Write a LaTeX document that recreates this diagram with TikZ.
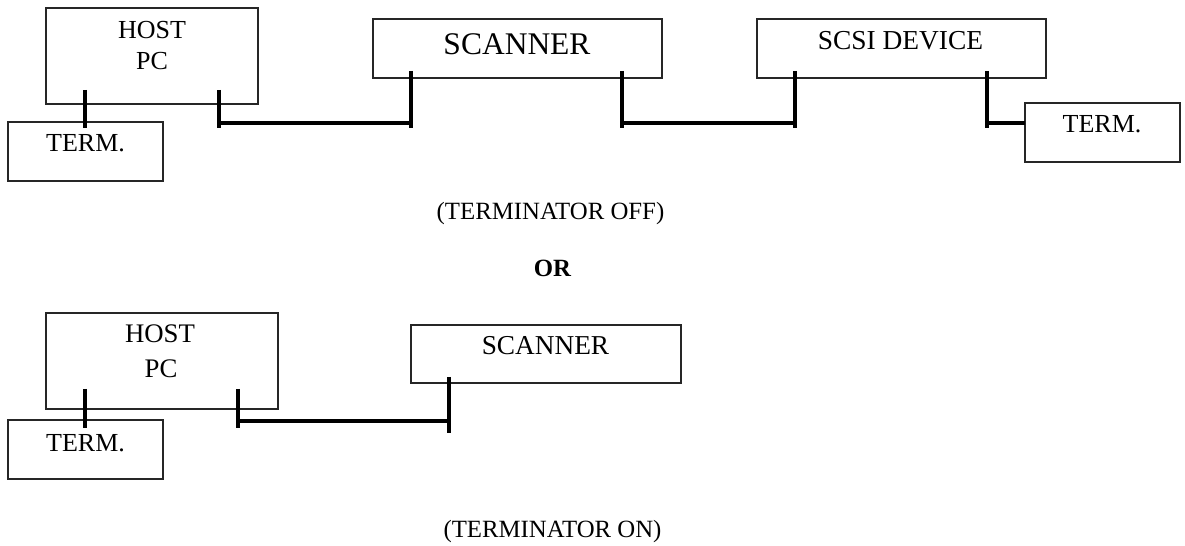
\documentclass[tikz,border=0pt]{standalone}
\usepackage{fontspec}
\setmainfont{Liberation Serif}
\begin{document}
\begin{tikzpicture}[x=1bp,y=-1bp,
  box/.style={draw=black!85,line width=1.1bp,rectangle,inner sep=0pt,outer sep=0pt},
  txt/.style={inner sep=0pt,outer sep=0pt,anchor=base,font=\fontsize{26bp}{30bp}\selectfont},
  bigtxt/.style={txt,font=\fontsize{31.5bp}{36bp}\selectfont},
  midtxt/.style={txt,font=\fontsize{27.4bp}{32bp}\selectfont},
  captxt/.style={txt,font=\fontsize{24.8bp}{30bp}\selectfont},
  bus/.style={line width=3.5bp,black}]
\useasboundingbox (0,0) rectangle (1185,546);
% ---------- top: terminator off ----------
\node[box,minimum width=212bp,minimum height=96bp] (hostA) at (152,56) {};
\node[box,minimum width=155bp,minimum height=59bp] (termA) at (85.5,151.5) {};
\node[box,minimum width=289bp,minimum height=59bp] (scanA) at (517.5,48.5) {};
\node[box,minimum width=289bp,minimum height=59bp] (scsi) at (901.5,48.5) {};
\node[box,minimum width=155bp,minimum height=59bp] (termB) at (1102.5,132.5) {};
\node[txt] (hostAt1) at (152,39) {HOST};
\node[txt] (hostAt2) at (152,70) {PC};
\node[txt] (termAt) at (85.5,152) {TERM.};
\node[bigtxt] (scanAt) at (517,55) {SCANNER};
\node[midtxt] (scsit) at (900.5,50) {SCSI DEVICE};
\node[txt] (termBt) at (1102,133) {TERM.};
% stubs and buses
\coordinate (a1) at (85,90);  \coordinate (a2) at (85,128);
\coordinate (b1) at (219,90); \coordinate (b2) at (219,128); \coordinate (bm) at (219,123);
\coordinate (c1) at (411,71); \coordinate (c2) at (411,128); \coordinate (cm) at (411,123);
\coordinate (d1) at (622,71); \coordinate (d2) at (622,128); \coordinate (dm) at (622,123);
\coordinate (e1) at (795,71); \coordinate (e2) at (795,128); \coordinate (em) at (795,123);
\coordinate (f1) at (987,71); \coordinate (f2) at (987,128); \coordinate (fm) at (987,123);
\draw[bus] (a1) -- (a2);
\draw[bus] (b1) -- (b2);
\draw[bus] (c1) -- (c2);
\draw[bus] (bm) -- (cm);
\draw[bus] (d1) -- (d2);
\draw[bus] (e1) -- (e2);
\draw[bus] (dm) -- (em);
\draw[bus] (f1) -- (f2);
\draw[bus] (fm) -- (termB.west |- fm);
\node[captxt] (offt) at (550.5,220) {(TERMINATOR OFF)};
\node[captxt,font=\fontsize{24.8bp}{30bp}\selectfont\bfseries] (ort) at (552.5,277) {OR};
% ---------- bottom: terminator on ----------
\node[box,minimum width=232bp,minimum height=96bp] (hostB) at (162,361) {};
\node[box,minimum width=155bp,minimum height=59bp] (termC) at (85.5,449.5) {};
\node[box,minimum width=270bp,minimum height=58bp] (scanB) at (546,354) {};
\node[txt,font=\fontsize{26.8bp}{30bp}\selectfont] (hostBt1) at (160,343) {HOST};
\node[txt,font=\fontsize{26.8bp}{30bp}\selectfont] (hostBt2) at (161,378) {PC};
\node[txt] (termCt) at (85.5,451) {TERM.};
\node[midtxt,font=\fontsize{27.3bp}{32bp}\selectfont] (scanBt) at (545.5,355) {SCANNER};
\coordinate (g1) at (85,389);  \coordinate (g2) at (85,428);
\coordinate (h1) at (238,389); \coordinate (h2) at (238,428); \coordinate (hm) at (238,421);
\coordinate (i1) at (449,377); \coordinate (i2) at (449,433); \coordinate (im) at (449,421);
\draw[bus] (g1) -- (g2);
\draw[bus] (h1) -- (h2);
\draw[bus] (i1) -- (i2);
\draw[bus] (hm) -- (im);
\node[captxt] (ont) at (552.5,537) {(TERMINATOR ON)};
\end{tikzpicture}
\end{document}
